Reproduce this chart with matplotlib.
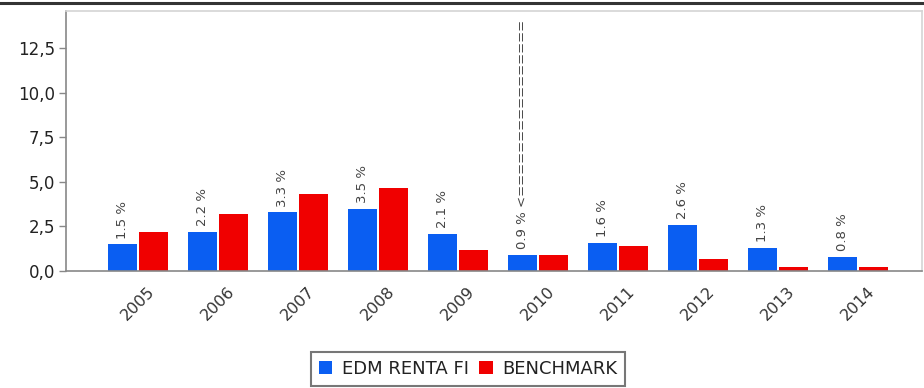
import matplotlib
matplotlib.use("Agg")
import matplotlib.pyplot as plt
from matplotlib.ticker import FuncFormatter, MultipleLocator
from matplotlib.lines import Line2D
import numpy as np

years = ["2005", "2006", "2007", "2008", "2009", "2010", "2011", "2012", "2013", "2014"]
fund = [1.5, 2.2, 3.3, 3.5, 2.1, 0.9, 1.6, 2.6, 1.3, 0.8]
benchmark = [2.2, 3.2, 4.35, 4.65, 1.2, 0.9, 1.4, 0.65, 0.2, 0.2]
fund_labels = ["1.5 %", "2.2 %", "3.3 %", "3.5 %", "2.1 %", "0.9 %", "1.6 %", "2.6 %", "1.3 %", "0.8 %"]
marker_year = "2010"

BLUE = "#0A5EF2"
RED = "#F00000"

fig = plt.figure(figsize=(9.24, 3.88), dpi=100)
ax = fig.add_axes([66 / 924, 117 / 388, 856 / 924, 260 / 388])

x = np.arange(len(years))
w = 0.36
off = 0.19
ax.bar(x - off, fund, width=w, color=BLUE, label="EDM RENTA FI", zorder=2)
ax.bar(x + off, benchmark, width=w, color=RED, label="BENCHMARK", zorder=2)

ax.set_xlim(-0.9, 9.8)
ax.set_ylim(0, 14.6)

marker_text = None
for i, (v, lab) in enumerate(zip(fund, fund_labels)):
    text = lab
    if years[i] == marker_year:
        text = lab + " <" + "=" * 40
    t = ax.annotate(text, xy=(x[i] - off, v), xytext=(0, 4), textcoords="offset points",
                    rotation=90, ha="center", va="bottom", fontsize=9.5, color="#444444")
    if years[i] == marker_year:
        marker_text = t

ax.yaxis.set_major_locator(MultipleLocator(2.5))
ax.yaxis.set_major_formatter(FuncFormatter(lambda v, p: f"{v:.1f}".replace(".", ",")))
ax.set_xticks(x)
ax.set_xticklabels(years, rotation=45, ha="center", va="top")

ax.tick_params(axis="y", length=5, width=1, color="#888888", labelsize=12,
               labelcolor="#222222", pad=3)
ax.tick_params(axis="x", length=0, labelsize=11.5, labelcolor="#333333", pad=9)

for side in ["left", "bottom"]:
    ax.spines[side].set_color("#888888")
    ax.spines[side].set_linewidth(1.2)
for side in ["top", "right"]:
    ax.spines[side].set_color("#d4d4d4")
    ax.spines[side].set_linewidth(1.2)

leg = fig.legend(loc="lower center", bbox_to_anchor=(468 / 924, 0.005), ncol=2,
                 fontsize=13, frameon=True, fancybox=False, handlelength=0.75,
                 handleheight=0.75, handletextpad=0.5, columnspacing=0.6,
                 borderpad=0.45, borderaxespad=0)
leg.get_frame().set_edgecolor("#555555")
leg.get_frame().set_linewidth(1.5)
for t in leg.get_texts():
    t.set_color("#222222")

fig.add_artist(Line2D([0, 1], [1 - 3 / 388, 1 - 3 / 388], transform=fig.transFigure,
                      color="#333333", linewidth=2.2))

# trim the arrow of "=" so it runs up to the top of the plot area
renderer = fig.canvas.get_renderer()
top = ax.get_window_extent(renderer).y1
s = marker_text.get_text()
while marker_text.get_window_extent(renderer).y1 > top - 1 and s.endswith("="):
    s = s[:-1]
    marker_text.set_text(s)

fig.savefig("out.png", dpi=100)
